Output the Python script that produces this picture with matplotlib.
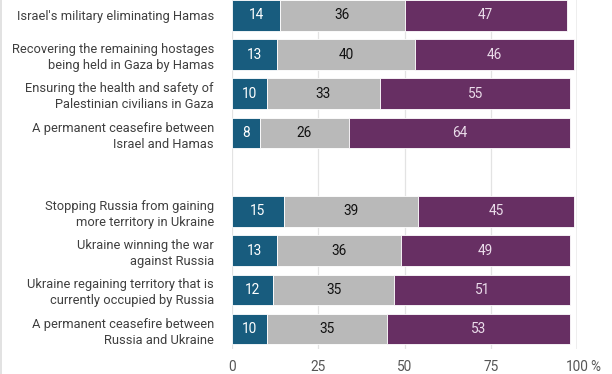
import matplotlib
matplotlib.use("Agg")
import matplotlib.pyplot as plt
from matplotlib.lines import Line2D

plt.rcParams['font.family'] = ['Roboto', 'DejaVu Sans']

categories = [
    "Israel's military eliminating Hamas",
    "Recovering the remaining hostages\nbeing held in Gaza by Hamas",
    "Ensuring the health and safety of\nPalestinian civilians in Gaza",
    "A permanent ceasefire between\nIsrael and Hamas",
    "Stopping Russia from gaining\nmore territory in Ukraine",
    "Ukraine winning the war\nagainst Russia",
    "Ukraine regaining territory that is\ncurrently occupied by Russia",
    "A permanent ceasefire between\nRussia and Ukraine",
]
slots = [0, 1, 2, 3, 5, 6, 7, 8]
series1 = [14, 13, 10, 8, 15, 13, 12, 10]
series2 = [36, 40, 33, 26, 39, 36, 35, 35]
series3 = [47, 46, 55, 64, 45, 49, 51, 53]
xticks = [0, 25, 50, 75, 100]

colors = ["#185c7e", "#b9b9b9", "#672f63"]
text_colors = ["#ffffff", "#111111", "#eadcea"]

fig = plt.figure(figsize=(6.12, 3.74), dpi=100)
W, H = 612, 374
ax = fig.add_axes([232 / W, 1 - 349 / H, 345 / W, 349 / H])

left = [0] * len(slots)
for vals, c, tc in zip([series1, series2, series3], colors, text_colors):
    ax.barh(slots, vals, left=left, height=0.78, color=c, edgecolor="white",
            linewidth=0.6, zorder=2)
    for y, v, l in zip(slots, vals, left):
        ax.text(l + v / 2, y, str(v), ha="center", va="center", color=tc,
                fontsize=9.8, zorder=3)
    left = [a + b for a, b in zip(left, vals)]

ax.set_xlim(0, 100)
ax.set_ylim(8.505, -0.39)
ax.set_yticks(slots)
ax.set_yticklabels(categories, fontsize=9.3, color="#3f3f3f", linespacing=1.3)
ax.set_xticks(xticks)
ax.set_xticklabels([str(t) for t in xticks], fontsize=9.8, color="#555555")
ax.tick_params(axis="y", length=0, pad=13)
ax.tick_params(axis="x", length=0, pad=8)
for s in ax.spines.values():
    s.set_visible(False)
for t in xticks:
    if t == 100:
        ax.axvline(t, color="#ececec", lw=2, zorder=0)
    else:
        ax.axvline(t, color="#e3e3e3", lw=0.9, zorder=0)

ax.annotate("%", xy=(1, 0), xycoords="axes fraction",
            xytext=(13 * 0.72, -8), textcoords="offset points",
            fontsize=9.8, color="#555555", ha="left", va="top")
fig.add_artist(Line2D([0.6 / W, 0.6 / W], [0, 1], color="#dddddd", lw=1.2,
                      transform=fig.transFigure))

fig.savefig("out.png", dpi=100)
